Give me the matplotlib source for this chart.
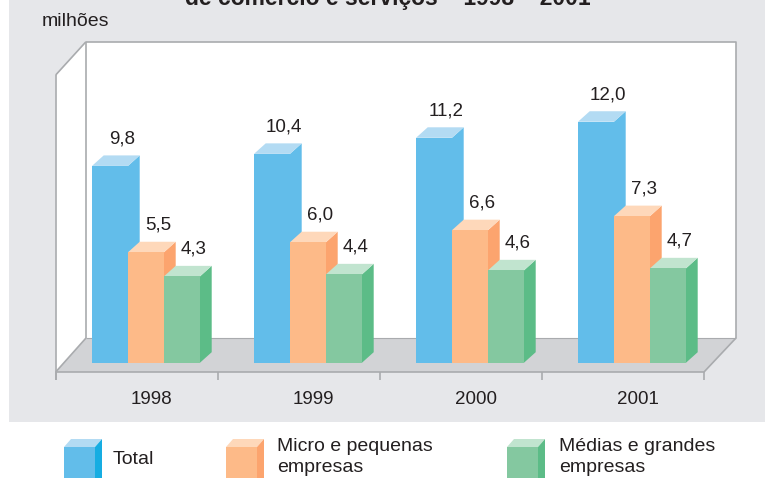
import matplotlib
matplotlib.use("Agg")
import matplotlib.pyplot as plt
from matplotlib.patches import Polygon, Rectangle
import matplotlib.transforms as mtransforms

# ---------------- data ----------------
years = ["1998", "1999", "2000", "2001"]
total = [9.8, 10.4, 11.2, 12.0]
micro_pequenas = [5.5, 6.0, 6.6, 7.3]
medias_grandes = [4.3, 4.4, 4.6, 4.7]
value_labels_total = ["9,8", "10,4", "11,2", "12,0"]
value_labels_micro = ["5,5", "6,0", "6,6", "7,3"]
value_labels_medias = ["4,3", "4,4", "4,6", "4,7"]
series_names = ["Total", "Micro e pequenas\nempresas", "Médias e grandes\nempresas"]
unit_label = "milhões"
title_text = "de comércio e serviços – 1998 – 2001"

# ---------------- styles ----------------
W, H = 765, 478
FONT = ["Liberation Sans", "DejaVu Sans"]
plt.rcParams["font.family"] = FONT
TXT = "#231f20"
BG = "#e6e7ea"
FLOOR = "#d2d3d6"
EDGE = "#a9abae"
colors = [  # front, top, side
    ("#62bdea", "#b3dbf3", "#62bdea"),
    ("#fdba88", "#fed8ba", "#fca46e"),
    ("#84c8a0", "#c1e4cf", "#5cbc87"),
]
legend_side = ["#16ade2", "#fca46e", "#5cbc87"]

fig = plt.figure(figsize=(W / 100, H / 100), dpi=100)
ax = fig.add_axes([0, 0, 1, 1])
ax.set_axis_off()

# pixel mapping for data axes: x in category units, y in value units
PX_GROUP = 162.0
X0 = 92.0          # left of first bar (px)
Y0 = 362.7         # bar base (px)
PX_UNIT = 20.08    # px per value unit
ax.set_xlim(-X0 / PX_GROUP, (W - X0) / PX_GROUP)
ax.set_ylim((Y0 - H) / PX_UNIT, Y0 / PX_UNIT)

# transform for decorations given in top-left pixel coordinates
P = mtransforms.Affine2D().scale(1 / W, -1 / H).translate(0, 1) + fig.transFigure

def poly(pts, fc, ec="none", lw=0, z=1, tr=P):
    ax.add_patch(Polygon(pts, closed=True, facecolor=fc, edgecolor=ec,
                         linewidth=lw, transform=tr, zorder=z))

def line(xs, ys, z=2, color=EDGE, lw=1.2):
    ax.plot(xs, ys, color=color, lw=lw, transform=P, zorder=z,
            solid_capstyle="butt")

# gray panel
poly([(9, 0), (W, 0), (W, 421.7), (9, 421.7)], BG, z=0)

# walls / floor
fl, fr, fy = 55.7, 704.0, 372.0   # front floor edge
bl, br, by = 86.0, 736.0, 338.0   # back floor edge
top = 41.7
poly([(bl, top), (br, top), (br, by), (bl, by)], "white", z=0.5)
poly([(fl, top + 33.3), (bl, top), (bl, by), (fl, fy)], "white", z=0.5)
poly([(fl, fy), (fr, fy), (br, by), (bl, by)], FLOOR, z=0.6)
line([bl, br, br], [top, top, by])
line([bl, bl], [top, by])
line([fl, bl], [top + 33.3, top])
line([fl, fl], [top + 33.3, fy + 8])
line([fl, bl], [fy, by])
line([bl, br], [by, by], lw=0.8)
line([fl, fr, br], [fy, fy, by])
for k in range(len(years) + 1):
    xk = fl + k * PX_GROUP
    line([xk, xk], [fy, fy + 8])

# bars
bw = 36.0 / PX_GROUP
ddx = 11.7 / PX_GROUP
ddy = 10.5 / PX_UNIT

# year labels, centred under each bar group
for i, yr in enumerate(years):
    ax.text(i + (3 * bw + ddx) / 2, (Y0 - 399) / PX_UNIT, yr,
            ha="center", va="center", fontsize=13.5, color=TXT)

series = [total, micro_pequenas, medias_grandes]
labels = [value_labels_total, value_labels_micro, value_labels_medias]
for s, (vals, labs) in enumerate(zip(series, labels)):
    front, topc, side = colors[s]
    for i, v in enumerate(vals):
        x = i + s * bw
        z = 3 + s
        poly([(x + bw, 0), (x + bw + ddx, ddy), (x + bw + ddx, v + ddy), (x + bw, v)],
             side, z=z, tr=ax.transData)
        poly([(x, v), (x + bw, v), (x + bw + ddx, v + ddy), (x + ddx, v + ddy)],
             topc, z=z, tr=ax.transData)
        ax.add_patch(Rectangle((x, 0), bw, v, facecolor=front, edgecolor="none",
                               zorder=z))
        ax.text(x + 30.0 / PX_GROUP, v + 27.0 / PX_UNIT, labs[i], ha="center",
                va="center", fontsize=13.5, color=TXT, zorder=10)

# unit label and (clipped) title
ax.text(42, 21, unit_label, transform=P, ha="left", va="center", fontsize=14,
        color=TXT)
ax.text(388, 5, title_text, transform=P, ha="center", va="baseline",
        fontsize=16.5, fontweight="bold", color=TXT)

# legend
leg_x = [64.0, 226.0, 507.0]
txt_x = [113.0, 277.0, 559.0]
iw, idx, idy = 31.0, 7.0, 8.0
for s in range(3):
    front, topc, side = colors[s]
    x0 = leg_x[s]
    ytop = 447.0
    poly([(x0, ytop), (x0 + iw, ytop), (x0 + iw, H + 5), (x0, H + 5)], front, z=5)
    poly([(x0, ytop), (x0 + iw, ytop), (x0 + iw + idx, ytop - idy), (x0 + idx, ytop - idy)],
         topc, z=5)
    poly([(x0 + iw, ytop), (x0 + iw + idx, ytop - idy), (x0 + iw + idx, H + 5), (x0 + iw, H + 5)],
         legend_side[s], z=5)
    ax.text(txt_x[s], 460 if s == 0 else 457, series_names[s], transform=P,
            ha="left", va="center", fontsize=14, color=TXT, linespacing=1.3)

fig.savefig("out.png", dpi=100)
